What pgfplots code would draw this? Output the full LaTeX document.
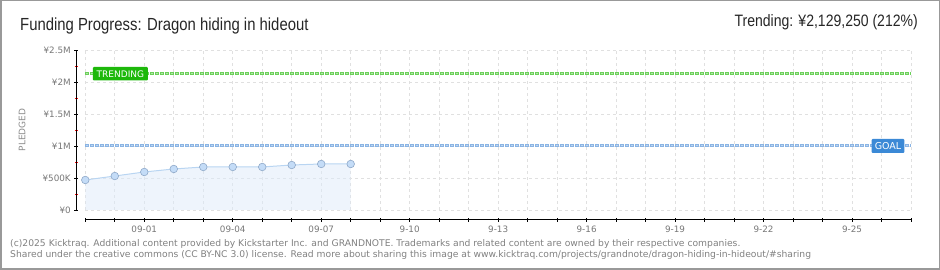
\documentclass[border=0pt]{standalone}
\usepackage{fontspec}
\setmainfont{DejaVu Sans}
\newfontfamily\titlefont[FakeStretch=0.85]{Liberation Sans}
\usepackage{pgfplots}
\pgfplotsset{compat=1.18}
\definecolor{gridc}{HTML}{E0E0E0}
\definecolor{tickc}{HTML}{777777}
\definecolor{trendc}{HTML}{6CCF5A}
\definecolor{trendin}{HTML}{B0E8A6}
\definecolor{trendbox}{HTML}{1DB80A}
\definecolor{goalc}{HTML}{8AB4E4}
\definecolor{goalin}{HTML}{BDD5F1}
\definecolor{goalbox}{HTML}{3B89D6}
\definecolor{areac}{HTML}{DEEAFA}
\definecolor{linec}{HTML}{B9D5F2}
\definecolor{markf}{HTML}{C4DCF7}
\definecolor{markd}{HTML}{8EA8C8}
\definecolor{footc}{HTML}{808080}
\begin{document}
\begin{tikzpicture}[x=1pt,y=1pt]
\draw[color=gray!80, line width=1.5pt] (0.75,0.75) rectangle (939.25,269.25);
\node[anchor=base west, inner sep=0, font=\titlefont\fontsize{17.5}{17.5}\selectfont, text=black!85] at (20,239.5) {Funding Progress: Dragon hiding in hideout};
\node[anchor=base east, inner sep=0, font=\titlefont\fontsize{16.5}{16.5}\selectfont, text=black!85] at (918,243.3) {Trending: ¥2,129,250 (212\%)};
\node[anchor=base west, inner sep=0, font=\fontsize{9.2}{10}\selectfont, text=footc] at (10,23.5) {(c)2025 Kicktraq. Additional content provided by Kickstarter Inc. and GRANDNOTE. Trademarks and related content are owned by their respective companies.};
\node[anchor=base west, inner sep=0, font=\fontsize{9.2}{10}\selectfont, text=footc] at (10,12) {Shared under the creative commons (CC BY-NC 3.0) license. Read more about sharing this image at www.kicktraq.com/projects/grandnote/dragon-hiding-in-hideout/\#sharing};
\node[rotate=90, inner sep=0, font=\fontsize{9}{9}\selectfont, text=black!45] at (22,140) {PLEDGED};
\begin{axis}[
 scale only axis, width=825.7pt, height=160pt,
 at={(85.3pt,60pt)}, anchor=south west,
 xmin=0, xmax=28, ymin=0, ymax=2500000,
 axis x line=bottom, axis y line=left,
 axis x line shift=10pt, axis y line shift=9pt,
 axis line style={-, black, line width=1pt},
 xtick={0,...,28},
 xticklabels={,,09-01,,,09-04,,,09-07,,,9-10,,,9-13,,,9-16,,,9-19,,,9-22,,,9-25,,},
 ytick={0,500000,1000000,1500000,2000000,2500000},
 yticklabels={¥0,¥500K,¥1M,¥1.5M,¥2M,¥2.5M},
 minor ytick={250000,750000,1250000,1750000,2250000},
 tick align=center, major tick length=4pt, minor tick length=3pt,
 major tick style={black, line width=0.8pt}, minor tick style={red, line width=0.8pt},
 grid=major, grid style={gridc, dashed, line width=0.6pt},
 tick label style={font=\fontsize{8.8}{9}\selectfont, text=tickc},
 scaled y ticks=false,
 clip=false,
 ]
\addplot[trendc, line width=3pt, dash pattern=on 4pt off 1pt] coordinates {(0,2129250) (28,2129250)};
\addplot[trendin, line width=1pt, dash pattern=on 2pt off 3pt, dash phase=4pt] coordinates {(0,2129250) (28,2129250)};
\addplot[goalc, line width=3pt, dash pattern=on 4pt off 1pt] coordinates {(0,1000000) (28,1000000)};
\addplot[goalin, line width=1pt, dash pattern=on 2pt off 3pt, dash phase=4pt] coordinates {(0,1000000) (28,1000000)};
\node[fill=trendbox, text=white, font=\fontsize{9}{9}\selectfont, minimum width=55pt, minimum height=13.5pt, inner sep=0, rounded corners=1pt] at (axis cs:1.19,2129250) {TRENDING};
\node[fill=goalbox, text=white, font=\fontsize{9.5}{9.5}\selectfont, minimum width=32.6pt, minimum height=14pt, inner sep=0, rounded corners=1pt] at (axis cs:27.22,1000000) {GOAL};
\addplot[draw=none, fill=areac, fill opacity=0.5] coordinates {(0,469000) (1,531000) (2,594000) (3,641000) (4,672000) (5,672000) (6,672000) (7,703000) (8,719000) (9,719000)} \closedcycle;
\addplot[linec, line width=1pt, mark=*, mark size=3.8pt, mark options={fill=markf, draw=markd, line width=0.6pt}] coordinates {(0,469000) (1,531000) (2,594000) (3,641000) (4,672000) (5,672000) (6,672000) (7,703000) (8,719000) (9,719000)};
\end{axis}
\end{tikzpicture}
\end{document}
